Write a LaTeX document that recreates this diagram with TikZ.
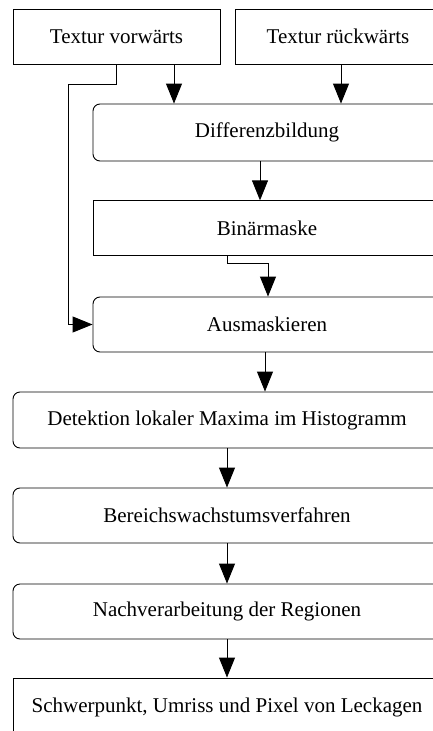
\documentclass[tikz,border=0pt]{standalone}
\usepackage{fontspec}
\setmainfont{Liberation Serif}
\usetikzlibrary{arrows.meta}
\begin{document}
\begin{tikzpicture}[x=1pt,y=1pt,
  every node/.style={font=\fontsize{21}{25}\selectfont, inner sep=0pt},
  sharpbox/.style={draw, line width=0.9pt, rectangle},
  roundbox/.style={draw, line width=0.9pt, rectangle, rounded corners=7pt},
  conn/.style={line width=0.9pt},
  arr/.style={conn, -{Triangle[length=20pt,width=16pt]}}]
\useasboundingbox (0,0) rectangle (433,-731);
\clip (0,0) rectangle (433,-731);

% process boxes (the right-hand edges run past the frame)
\node[sharpbox, minimum width=207, minimum height=55] (tv) at (116.5,-36.5) {Textur vorwärts};
\node[sharpbox, minimum width=206, minimum height=55] (tr) at (338,-36.5) {Textur rückwärts};
\node[roundbox, minimum width=348, minimum height=57] (diff) at (267,-132.5) {Differenzbildung};
\node[sharpbox, minimum width=348, minimum height=55] (bin) at (267,-228.3) {Binärmaske};
\node[roundbox, minimum width=348, minimum height=55] (aus) at (267,-324.5) {Ausmaskieren};
\node[roundbox, minimum width=428, minimum height=56] (det) at (227,-420) {Detektion lokaler Maxima im Histogramm};
\node[roundbox, minimum width=428, minimum height=55] (ber) at (227,-515.5) {Bereichswachstumsverfahren};
\node[roundbox, minimum width=428, minimum height=55] (nach) at (227,-611.5) {Nachverarbeitung der Regionen};
\node[sharpbox, minimum width=428, minimum height=60] (res) at (227,-708) {\raisebox{6pt}{Schwerpunkt, Umriss und Pixel von Leckagen}};

% connectors
\draw[arr] ([xshift=57.5]tv.south) -- ([xshift=57.5]tv.south |- diff.north);
\draw[arr] ([xshift=3]tr.south) -- ([xshift=3]tr.south |- diff.north);
\draw[arr] (tv.south) -- ++(0,-20) -- ++(-48.5,0) |- (aus.west);
\draw[arr] ([xshift=-7]diff.south) -- ([xshift=-7]diff.south |- bin.north);
\draw[arr] ([xshift=-40]bin.south) -- ++(0,-7) -| ([xshift=1]aus.north);
\draw[arr] ([xshift=-2]aus.south) -- ([xshift=-2]aus.south |- det.north);
\draw[arr] (det.south) -- (ber.north);
\draw[arr] (ber.south) -- (nach.north);
\draw[arr] (nach.south) -- (res.north);
\end{tikzpicture}
\end{document}
